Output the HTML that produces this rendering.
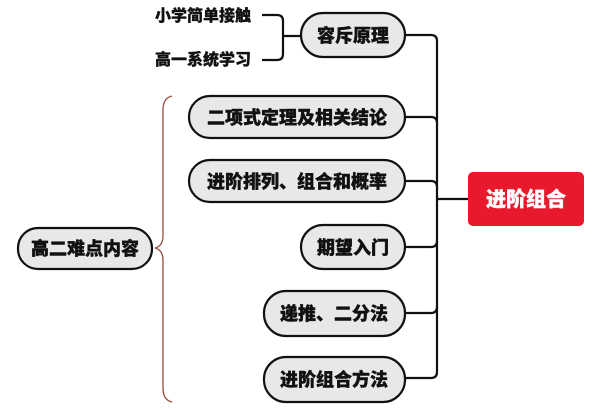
<!DOCTYPE html>
<html><head><meta charset="utf-8"><style>
html,body{margin:0;padding:0;background:#fff;}
svg{display:block}
text{font-family:"Noto Sans CJK SC","Liberation Sans",sans-serif;font-weight:900;}
</style></head><body>
<svg width="603" height="412" viewBox="0 0 603 412" xmlns="http://www.w3.org/2000/svg">
<g fill="none" stroke="#111" stroke-width="2.2">
<path d="M262 15 H277 Q283 15 283 21 V54 Q283 60 277 60 H262"/>
<path d="M283 36 H301"/>
<path d="M405 35 H431 Q437 35 437 41 V372 Q437 378 431 378 H405"/>
<path d="M405 117 H431 Q437 117 437 123"/>
<path d="M405 181 H431 Q437 181 437 187"/>
<path d="M405 247 H431 Q437 247 437 241"/>
<path d="M405 313 H431 Q437 313 437 307"/>
<path d="M437 199 H468"/>
</g>
<path d="M172 96 Q163 98 163 110 V236 Q163 246 155 248 Q163 250 163 260 V388 Q163 400 172 402" fill="none" stroke="#9a4a40" stroke-width="1.3"/>
<g fill="#e8e8e8" stroke="#111" stroke-width="2.2">
<rect x="301" y="13" width="104" height="44" rx="22"/>
<rect x="189" y="96" width="216" height="42" rx="21"/>
<rect x="189" y="160" width="216" height="42" rx="21"/>
<rect x="301" y="225" width="104" height="44" rx="22"/>
<rect x="264" y="291" width="141" height="45" rx="22"/>
<rect x="264" y="357" width="141" height="45" rx="22"/>
<rect x="18" y="228" width="134" height="41" rx="20"/>
</g>
<rect x="468" y="172" width="116" height="54" rx="5" fill="#e8192c"/>
<g font-size="18" fill="#111" stroke="#111" stroke-width="0.4" text-anchor="middle">
<text x="353" y="42">容斥原理</text>
<text x="297" y="124">二项式定理及相关结论</text>
<text x="297" y="188">进阶排列、组合和概率</text>
<text x="353" y="254">期望入门</text>
<text x="334" y="320">递推、二分法</text>
<text x="334" y="386">进阶组合方法</text>
<text x="85" y="255">高二难点内容</text>
<text x="526" y="206" fill="#fff" stroke="#fff" font-size="20">进阶组合</text>
</g>
<g font-size="16" fill="#111" stroke="#111" stroke-width="0.3">
<text x="155" y="21">小学简单接触</text>
<text x="155" y="65">高一系统学习</text>
</g>
</svg>
</body></html>
